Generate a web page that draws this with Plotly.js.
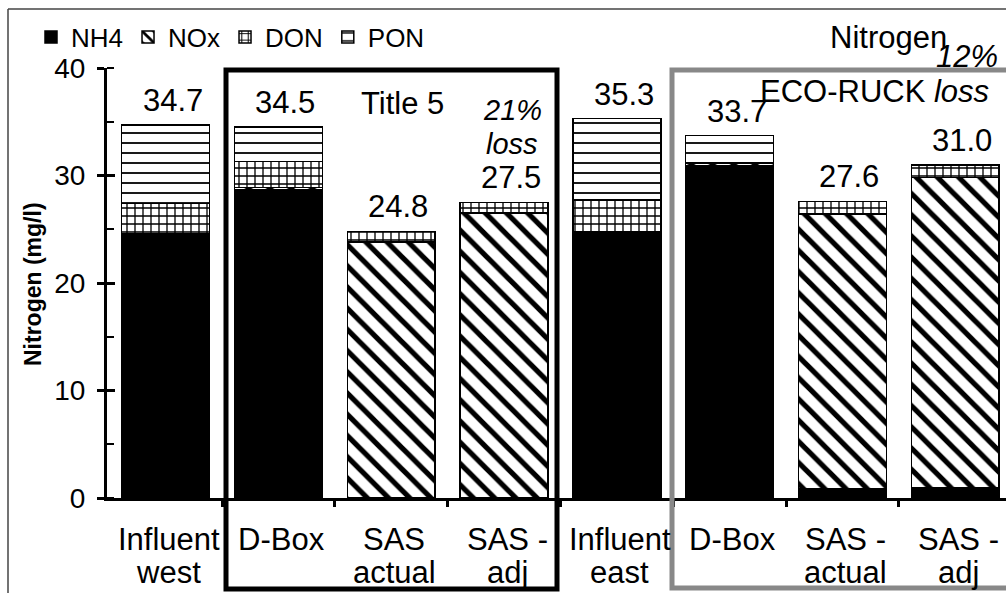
<!DOCTYPE html>
<html>
<head>
<meta charset="utf-8">
<script src="https://cdn.plot.ly/plotly-3.0.1.min.js"></script>
<style>html,body{margin:0;padding:0;background:#fff;}#chart{width:1006px;height:593px;}</style>
</head>
<body>
<div id="chart"></div>
<script>
// ---- data ----
const categories = ["Influent<br>west", "D-Box", "SAS<br>actual", "SAS -<br>adj",
                    "Influent<br>east", "D-Box", "SAS -<br>actual", "SAS -<br>adj"];
const nh4 = [24.5, 28.7, 0, 0, 24.7, 30.9, 0.9, 1.0];
const nox = [0.1, 0.2, 23.8, 26.5, 0.1, 0.2, 25.5, 28.8];
const don = [2.8, 2.4, 1.0, 1.0, 2.9, 0.1, 1.2, 1.2];
const pon = [7.3, 3.2, 0, 0, 7.6, 2.5, 0, 0];
const totals = [34.7, 34.5, 24.8, 27.5, 35.3, 33.7, 27.6, 31.0];
const seriesNames = ["NH4", "NOx", "DON", "PON"];
const yTicks = [0, 10, 20, 30, 40];

// ---- layout helpers ----
const W = 1006, H = 593;
const M = {l: 107, r: 0, t: 68, b: 95};
const PW = W - M.l - M.r, PH = H - M.t - M.b;
const px = x => (x - M.l) / PW;          // pixel -> paper x
const py = y => (H - M.b - y) / PH;      // pixel -> paper y
const FONT = "Liberation Sans, Arial, sans-serif";
const BIG = 31;

const xs = categories.map((_, i) => i);
const line = {color: "black", width: 1.5};

const traces = [
  {name: seriesNames[0], y: nh4, marker: {color: "black", line: line}},
  {name: seriesNames[1], y: nox, marker: {color: "white", line: line,
     pattern: {shape: "\\", fgcolor: "black", bgcolor: "white", size: 15, solidity: 0.35}}},
  {name: seriesNames[2], y: don, marker: {color: "white", line: line,
     pattern: {shape: "+", fgcolor: "black", bgcolor: "white", size: 8, solidity: 0.3}}},
  {name: seriesNames[3], y: pon, marker: {color: "white", line: line,
     pattern: {shape: "-", fgcolor: "black", bgcolor: "white", size: 10, solidity: 0.18}}}
].map(t => Object.assign({type: "bar", x: xs, width: 0.78, hoverinfo: "skip"}, t));

// second axis only to get major ticks crossing the y axis line
traces.push({type: "scatter", x: [0], y: [0], yaxis: "y2", mode: "none",
             showlegend: false, hoverinfo: "skip"});

const annotations = totals.map((v, i) => ({
  x: i, y: v, xref: "x", yref: "y", text: v.toFixed(1), showarrow: false,
  yanchor: "bottom", yshift: 5, xshift: 7, font: {family: FONT, size: BIG, color: "black"}
}));

// category labels (two lines, tight line spacing like the original)
categories.forEach((c, i) => {
  c.split("<br>").forEach((part, k) => {
    annotations.push({x: i, y: py(539 + 33 * k), xref: "x", yref: "paper", text: part,
      showarrow: false, xanchor: "center", yanchor: "middle", xshift: 3,
      font: {family: FONT, size: BIG, color: "black"}});
  });
});

const txt = (x, y, text, size, extra) => Object.assign({
  x: px(x), y: py(y), xref: "paper", yref: "paper", text: text, showarrow: false,
  xanchor: "center", yanchor: "middle", font: {family: FONT, size: size, color: "black"}
}, extra || {});

annotations.push(
  txt(402, 103, "Title 5", BIG),
  txt(512, 110, "<i>21%</i>", 29, {borderpad: 0}),
  txt(512, 144, "<i>loss</i>", 29, {borderpad: 0}),
  txt(888, 37, "Nitrogen", BIG),
  txt(967, 57, "<i>12%</i>", BIG),
  txt(874, 91, "ECO-RUCK <i>loss</i>", BIG),
  txt(33, 284, "<b>Nitrogen (mg/l)</b>", 23, {textangle: -90})
);

const shapes = [
  {type: "rect", xref: "paper", yref: "paper", x0: px(226), x1: px(557), y0: py(70), y1: py(589),
   line: {color: "black", width: 5}, layer: "above"},
  {type: "rect", xref: "paper", yref: "paper", x0: px(672), x1: px(1015), y0: py(70), y1: py(588),
   line: {color: "#888888", width: 5}, layer: "above"},
  {type: "line", xref: "paper", yref: "paper", x0: px(8), x1: px(8), y0: py(9), y1: py(600),
   line: {color: "#444", width: 1.5}, layer: "above"},
  {type: "line", xref: "paper", yref: "paper", x0: px(8), x1: px(1010), y0: py(9), y1: py(9),
   line: {color: "#444", width: 1.5}, layer: "above"}
];

const layout = {
  width: W, height: H, margin: M, paper_bgcolor: "white", plot_bgcolor: "white",
  barmode: "stack", showlegend: true,
  font: {family: FONT, color: "black"},
  legend: {orientation: "h", x: px(31), y: py(37), xanchor: "left", yanchor: "middle",
           traceorder: "normal", font: {family: FONT, size: 26, color: "black"},
           itemwidth: 30, bgcolor: "rgba(0,0,0,0)"},
  xaxis: {range: [-0.52, 7.45], tickmode: "array", tickvals: xs, showticklabels: false,
          ticks: "", showgrid: false, zeroline: false, showline: true, linecolor: "black",
          linewidth: 3,
          minor: {tickvals: xs.slice(0, -1).map(v => v + 0.5), ticks: "outside", ticklen: 6,
                  tickwidth: 3, tickcolor: "black", showgrid: false},
          fixedrange: true},
  yaxis: {range: [0, 40], tickmode: "array", tickvals: yTicks, ticks: "outside", ticklen: 7,
          tickwidth: 3, tickcolor: "black", showgrid: false, zeroline: false, showline: true,
          linecolor: "black", linewidth: 3, ticklabelstandoff: 6,
          tickfont: {family: FONT, size: 28, color: "black"},
          minor: {dtick: 5, ticks: "inside", ticklen: 7, tickwidth: 2, tickcolor: "black", showgrid: false},
          fixedrange: true},
  yaxis2: {overlaying: "y", matches: "y", range: [0, 40], tickmode: "array", tickvals: yTicks,
           ticks: "inside", ticklen: 8, tickwidth: 3, tickcolor: "black", showticklabels: false,
           showgrid: false, zeroline: false, showline: false, side: "left", fixedrange: true},
  annotations: annotations, shapes: shapes
};

Plotly.newPlot("chart", traces, layout, {displayModeBar: false, staticPlot: true});
</script>
</body>
</html>
